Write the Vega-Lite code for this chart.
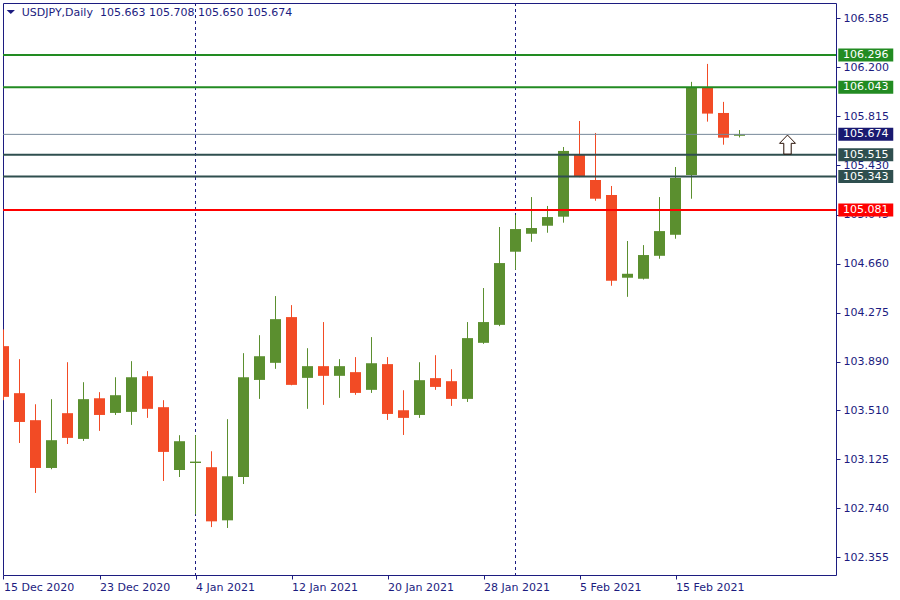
{
  "$schema": "https://vega.github.io/schema/vega-lite/v6.json",
  "width": 833,
  "height": 572,
  "autosize": {"type": "none"},
  "padding": {"left": 3, "top": 3, "right": 64, "bottom": 25},
  "background": "white",
  "config": {
    "view": {"stroke": "#1c1c80", "strokeWidth": 1},
    "font": "DejaVu Sans",
    "scale": {"continuousPadding": 0},
    "axisX": {"domain": false, "grid": false, "tickSize": 4, "tickColor": "#1c1c80", "labelColor": "#1c1c80", "labelFont": "DejaVu Sans", "labelFontSize": 11, "labelAlign": "left", "labelFlush": false, "labelPadding": 2, "labelOverlap": false, "title": null},
    "axisY": {"domain": false, "grid": false, "tickSize": 4, "tickColor": "#1c1c80", "labelColor": "#1c1c80", "labelFont": "DejaVu Sans", "labelFontSize": 11, "labelFlush": false, "labelPadding": 3, "labelOverlap": false, "title": null}
  },
  "datasets": {
    "candles": [
      {"d": "2020-12-15", "i": 0, "o": 104.012, "h": 104.143, "l": 103.588, "c": 103.614},
      {"d": "2020-12-16", "i": 1, "o": 103.643, "h": 103.910, "l": 103.252, "c": 103.417},
      {"d": "2020-12-17", "i": 2, "o": 103.431, "h": 103.556, "l": 102.860, "c": 103.056},
      {"d": "2020-12-18", "i": 3, "o": 103.056, "h": 103.596, "l": 103.046, "c": 103.274},
      {"d": "2020-12-21", "i": 4, "o": 103.486, "h": 103.886, "l": 103.244, "c": 103.292},
      {"d": "2020-12-22", "i": 5, "o": 103.284, "h": 103.729, "l": 103.268, "c": 103.596},
      {"d": "2020-12-23", "i": 6, "o": 103.603, "h": 103.651, "l": 103.347, "c": 103.472},
      {"d": "2020-12-24", "i": 7, "o": 103.488, "h": 103.768, "l": 103.472, "c": 103.627},
      {"d": "2020-12-28", "i": 8, "o": 103.496, "h": 103.894, "l": 103.394, "c": 103.768},
      {"d": "2020-12-29", "i": 9, "o": 103.776, "h": 103.816, "l": 103.449, "c": 103.520},
      {"d": "2020-12-30", "i": 10, "o": 103.533, "h": 103.588, "l": 102.954, "c": 103.182},
      {"d": "2020-12-31", "i": 11, "o": 103.040, "h": 103.313, "l": 102.985, "c": 103.266},
      {"d": "2021-01-04", "i": 12, "o": 103.095, "h": 103.313, "l": 102.692, "c": 103.106},
      {"d": "2021-01-05", "i": 13, "o": 103.062, "h": 103.187, "l": 102.592, "c": 102.637},
      {"d": "2021-01-06", "i": 14, "o": 102.645, "h": 103.439, "l": 102.585, "c": 102.991},
      {"d": "2021-01-07", "i": 15, "o": 102.985, "h": 103.957, "l": 102.930, "c": 103.768},
      {"d": "2021-01-08", "i": 16, "o": 103.747, "h": 104.098, "l": 103.598, "c": 103.933},
      {"d": "2021-01-11", "i": 17, "o": 103.881, "h": 104.405, "l": 103.834, "c": 104.224},
      {"d": "2021-01-12", "i": 18, "o": 104.240, "h": 104.334, "l": 103.705, "c": 103.708},
      {"d": "2021-01-13", "i": 19, "o": 103.763, "h": 103.996, "l": 103.520, "c": 103.855},
      {"d": "2021-01-14", "i": 20, "o": 103.855, "h": 104.201, "l": 103.551, "c": 103.779},
      {"d": "2021-01-15", "i": 21, "o": 103.779, "h": 103.910, "l": 103.606, "c": 103.855},
      {"d": "2021-01-18", "i": 22, "o": 103.808, "h": 103.926, "l": 103.630, "c": 103.645},
      {"d": "2021-01-19", "i": 23, "o": 103.669, "h": 104.083, "l": 103.645, "c": 103.878},
      {"d": "2021-01-20", "i": 24, "o": 103.871, "h": 103.926, "l": 103.433, "c": 103.480},
      {"d": "2021-01-21", "i": 25, "o": 103.509, "h": 103.666, "l": 103.315, "c": 103.449},
      {"d": "2021-01-22", "i": 26, "o": 103.472, "h": 103.886, "l": 103.449, "c": 103.745},
      {"d": "2021-01-25", "i": 27, "o": 103.761, "h": 103.941, "l": 103.669, "c": 103.692},
      {"d": "2021-01-26", "i": 28, "o": 103.737, "h": 103.831, "l": 103.543, "c": 103.598},
      {"d": "2021-01-27", "i": 29, "o": 103.598, "h": 104.201, "l": 103.574, "c": 104.075},
      {"d": "2021-01-28", "i": 30, "o": 104.038, "h": 104.468, "l": 104.030, "c": 104.201},
      {"d": "2021-01-29", "i": 31, "o": 104.179, "h": 104.947, "l": 104.169, "c": 104.664},
      {"d": "2021-02-01", "i": 32, "o": 104.753, "h": 105.041, "l": 104.611, "c": 104.931},
      {"d": "2021-02-02", "i": 33, "o": 104.894, "h": 105.182, "l": 104.831, "c": 104.939},
      {"d": "2021-02-03", "i": 34, "o": 104.957, "h": 105.112, "l": 104.902, "c": 105.025},
      {"d": "2021-02-04", "i": 35, "o": 105.028, "h": 105.575, "l": 104.981, "c": 105.544},
      {"d": "2021-02-05", "i": 36, "o": 105.512, "h": 105.779, "l": 105.338, "c": 105.342},
      {"d": "2021-02-08", "i": 37, "o": 105.316, "h": 105.685, "l": 105.153, "c": 105.169},
      {"d": "2021-02-09", "i": 38, "o": 105.198, "h": 105.269, "l": 104.486, "c": 104.525},
      {"d": "2021-02-10", "i": 39, "o": 104.549, "h": 104.837, "l": 104.399, "c": 104.580},
      {"d": "2021-02-11", "i": 40, "o": 104.541, "h": 104.805, "l": 104.535, "c": 104.727},
      {"d": "2021-02-12", "i": 41, "o": 104.721, "h": 105.182, "l": 104.698, "c": 104.915},
      {"d": "2021-02-15", "i": 42, "o": 104.886, "h": 105.418, "l": 104.855, "c": 105.332},
      {"d": "2021-02-16", "i": 43, "o": 105.355, "h": 106.086, "l": 105.169, "c": 106.039},
      {"d": "2021-02-17", "i": 44, "o": 106.039, "h": 106.227, "l": 105.774, "c": 105.837},
      {"d": "2021-02-18", "i": 45, "o": 105.842, "h": 105.929, "l": 105.593, "c": 105.648},
      {"d": "2021-02-19", "i": 46, "o": 105.663, "h": 105.708, "l": 105.650, "c": 105.674}
    ],
    "levels": [
      {"p": 106.296, "kind": "up"},
      {"p": 106.043, "kind": "up"},
      {"p": 105.674, "kind": "bid"},
      {"p": 105.515, "kind": "mid"},
      {"p": 105.343, "kind": "mid"},
      {"p": 105.081, "kind": "down"}
    ],
    "separators": [
      {"d": "2021-01-04", "i": 12},
      {"d": "2021-02-01", "i": 32}
    ],
    "signals": [
      {"d": "2021-02-24", "i": 49, "p": 105.594}
    ],
    "header": [
      {"label": "USDJPY,Daily\u00a0 105.663 105.708 105.650 105.674"}
    ]
  },
  "layer": [
    {
      "data": {"name": "separators"},
      "mark": {"type": "rule", "color": "#1c1c80", "strokeWidth": 1, "strokeDash": [3, 3]},
      "encoding": {
        "x": {"field": "i", "type": "quantitative", "title": null,
              "scale": {"domain": [-0.03125, 52.03125], "nice": false, "zero": false, "padding": 0},
              "axis": {"values": [0, 6, 12, 18, 24, 30, 36, 42],
                       "labelExpr": "['15 Dec 2020','23 Dec 2020','4 Jan 2021','12 Jan 2021','20 Jan 2021','28 Jan 2021','5 Feb 2021','15 Feb 2021'][round(datum.value / 6)]"}}
      }
    },
    {
      "data": {"name": "candles"},
      "mark": {"type": "rule", "strokeWidth": 1, "clip": true},
      "encoding": {
        "x": {"field": "i", "type": "quantitative", "title": null, "scale": {"domain": [-0.03125, 52.03125], "nice": false, "zero": false, "padding": 0}},
        "y": {"field": "l", "type": "quantitative", "title": null,
              "scale": {"domain": [102.216, 106.705], "nice": false, "zero": false, "padding": 0},
              "axis": {"orient": "right", "format": ".3f",
                       "values": [106.585, 106.2, 105.815, 105.43, 105.045, 104.66, 104.275, 103.89, 103.51, 103.125, 102.74, 102.355]}},
        "y2": {"field": "h"},
        "color": {"condition": {"test": "datum.c >= datum.o", "value": "#5b8f2f"}, "value": "#f24b25"}
      }
    },
    {
      "data": {"name": "candles"},
      "mark": {"type": "bar", "size": 11, "clip": true},
      "encoding": {
        "x": {"field": "i", "type": "quantitative", "title": null, "scale": {"domain": [-0.03125, 52.03125], "nice": false, "zero": false, "padding": 0}},
        "y": {"field": "o", "type": "quantitative", "title": null, "scale": {"domain": [102.216, 106.705], "nice": false, "zero": false, "padding": 0}},
        "y2": {"field": "c"},
        "color": {"condition": {"test": "datum.c >= datum.o", "value": "#5b8f2f"}, "value": "#f24b25"}
      }
    },
    {
      "data": {"name": "levels"},
      "mark": {"type": "rule"},
      "encoding": {
        "y": {"field": "p", "type": "quantitative", "title": null, "scale": {"domain": [102.216, 106.705], "nice": false, "zero": false, "padding": 0}},
        "color": {"field": "kind", "type": "nominal", "legend": null,
                  "scale": {"domain": ["up", "bid", "mid", "down"], "range": ["#228b22", "#778899", "#2f4f4f", "#ff0000"]}},
        "strokeWidth": {"condition": {"test": "datum.kind === 'bid'", "value": 1}, "value": 2}
      }
    },
    {
      "data": {"name": "levels"},
      "mark": {"type": "bar", "orient": "horizontal", "size": 13, "clip": false},
      "encoding": {
        "x": {"datum": 52.175, "type": "quantitative", "title": null, "scale": {"domain": [-0.03125, 52.03125], "nice": false, "zero": false, "padding": 0}},
        "x2": {"datum": 55.61},
        "y": {"field": "p", "type": "quantitative", "title": null, "scale": {"domain": [102.216, 106.705], "nice": false, "zero": false, "padding": 0}},
        "color": {"condition": {"test": "datum.kind === 'bid'", "value": "#191970"},
                  "field": "kind", "type": "nominal", "legend": null,
                  "scale": {"domain": ["up", "bid", "mid", "down"], "range": ["#228b22", "#778899", "#2f4f4f", "#ff0000"]}}
      }
    },
    {
      "data": {"name": "levels"},
      "mark": {"type": "text", "align": "left", "baseline": "middle", "font": "DejaVu Sans", "fontSize": 11, "color": "white", "clip": false},
      "encoding": {
        "x": {"datum": 52.47, "type": "quantitative", "title": null, "scale": {"domain": [-0.03125, 52.03125], "nice": false, "zero": false, "padding": 0}},
        "y": {"field": "p", "type": "quantitative", "title": null, "scale": {"domain": [102.216, 106.705], "nice": false, "zero": false, "padding": 0}},
        "text": {"field": "p", "type": "quantitative", "format": ".3f"}
      }
    },
    {
      "data": {"name": "signals"},
      "mark": {"type": "point", "filled": true, "fill": "white", "stroke": "#2a1208", "strokeWidth": 1, "opacity": 1,
               "shape": "M0,-1L0.84,-0.13L0.39,-0.13L0.39,1L-0.39,1L-0.39,-0.13L-0.84,-0.13Z", "size": 361},
      "encoding": {
        "x": {"field": "i", "type": "quantitative", "title": null, "scale": {"domain": [-0.03125, 52.03125], "nice": false, "zero": false, "padding": 0}},
        "y": {"field": "p", "type": "quantitative", "title": null, "scale": {"domain": [102.216, 106.705], "nice": false, "zero": false, "padding": 0}}
      }
    },
    {
      "data": {"name": "header"},
      "mark": {"type": "point", "filled": true, "fill": "#1c1c80", "opacity": 1,
               "shape": "M-1,-0.5L1,-0.5L0,0.5Z", "size": 69, "clip": false},
      "encoding": {
        "x": {"datum": 0.456, "type": "quantitative", "title": null, "scale": {"domain": [-0.03125, 52.03125], "nice": false, "zero": false, "padding": 0}},
        "y": {"datum": 106.634, "type": "quantitative", "title": null, "scale": {"domain": [102.216, 106.705], "nice": false, "zero": false, "padding": 0}}
      }
    },
    {
      "data": {"name": "header"},
      "mark": {"type": "text", "align": "left", "baseline": "middle", "font": "DejaVu Sans", "fontSize": 11, "color": "#1c1c80", "clip": false},
      "encoding": {
        "x": {"datum": 1.14, "type": "quantitative", "title": null, "scale": {"domain": [-0.03125, 52.03125], "nice": false, "zero": false, "padding": 0}},
        "y": {"datum": 106.629, "type": "quantitative", "title": null, "scale": {"domain": [102.216, 106.705], "nice": false, "zero": false, "padding": 0}},
        "text": {"field": "label", "type": "nominal"}
      }
    }
  ]
}
